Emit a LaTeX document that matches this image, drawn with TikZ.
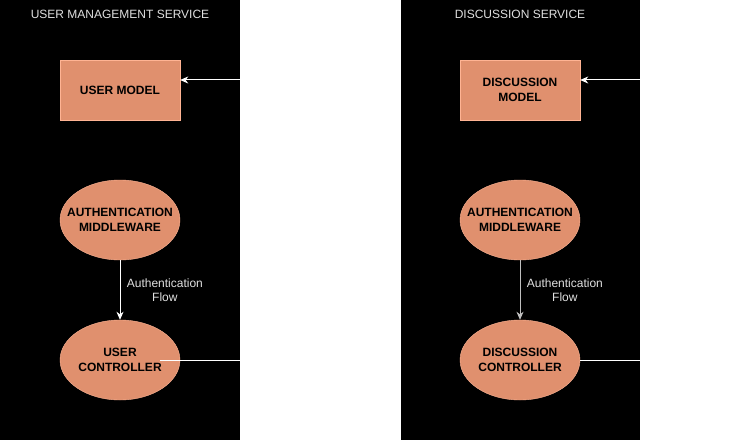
\documentclass[tikz,border=0pt]{standalone}
\usepackage{fontspec}
\setmainfont{Liberation Sans}
\usetikzlibrary{arrows.meta,shapes.geometric}
\definecolor{salmon}{HTML}{E0906E}
\definecolor{salmonedge}{HTML}{FFB494}
\definecolor{paletext}{HTML}{E0E0E0}
\tikzset{
	modelbox/.style={draw=salmonedge,fill=salmon,minimum width=120pt,minimum height=60pt,inner sep=0pt,align=center,font=\bfseries\fontsize{12}{14.5}\selectfont,text=black},
	partnode/.style={ellipse,draw=salmonedge,fill=salmon,minimum width=120pt,minimum height=80pt,inner xsep=-12pt,inner ysep=0pt,align=center,font=\bfseries\fontsize{12}{14.5}\selectfont,text=black},
	flowlabel/.style={align=center,font=\fontsize{12}{14}\selectfont,text=paletext},
	titlelabel/.style={font=\fontsize{12}{14}\selectfont,text=paletext},
	link/.style={line width=1pt,-{Stealth[length=8pt,width=7pt,inset=2.5pt]}}
}
\begin{document}
\begin{tikzpicture}[x=1pt,y=-1pt]
	\useasboundingbox (0,0) rectangle (754,441);
	\fill[white] (0,0) rectangle (754,441);
	% service panels
	\fill[black] (0,0) rectangle (240,440);
	\fill[black] (401,0) rectangle (640,440);
	\node[titlelabel] (usertitle) at (120,14) {USER MANAGEMENT SERVICE};
	\node[titlelabel] (disctitle) at (520,14) {DISCUSSION SERVICE};
	% user management service
	\node[modelbox] (usermodel) at (120,90) {USER MODEL};
	\node[partnode] (userauth) at (120,220) {AUTHENTICATION\\MIDDLEWARE};
	\node[partnode] (userctrl) at (120,360) {USER\\CONTROLLER};
	\coordinate (userin) at (240,80);
	\coordinate (userout) at (240,360);
	\draw[link,white] (userin) -- (usermodel.east |- userin);
	\draw[link,white] (userauth) -- (userctrl) node[flowlabel,midway,right=3pt] (userflow) {Authentication\\Flow};
	\draw[line width=1pt,white] ([xshift=40pt]userctrl.center) -- (userout);
	% discussion service
	\node[modelbox] (discmodel) at (520,90) {DISCUSSION\\MODEL};
	\node[partnode] (discauth) at (520,220) {AUTHENTICATION\\MIDDLEWARE};
	\node[partnode] (discctrl) at (520,360) {DISCUSSION\\CONTROLLER};
	\coordinate (discin) at (640,80);
	\coordinate (discout) at (640,360);
	\draw[link,white] (discin) -- (discmodel.east |- discin);
	\draw[link,lightgray] (discauth) -- (discctrl) node[flowlabel,midway,right=3pt] (discflow) {Authentication\\Flow};
	\draw[line width=1pt,white] (discctrl.east) -- (discout);
\end{tikzpicture}
\end{document}
